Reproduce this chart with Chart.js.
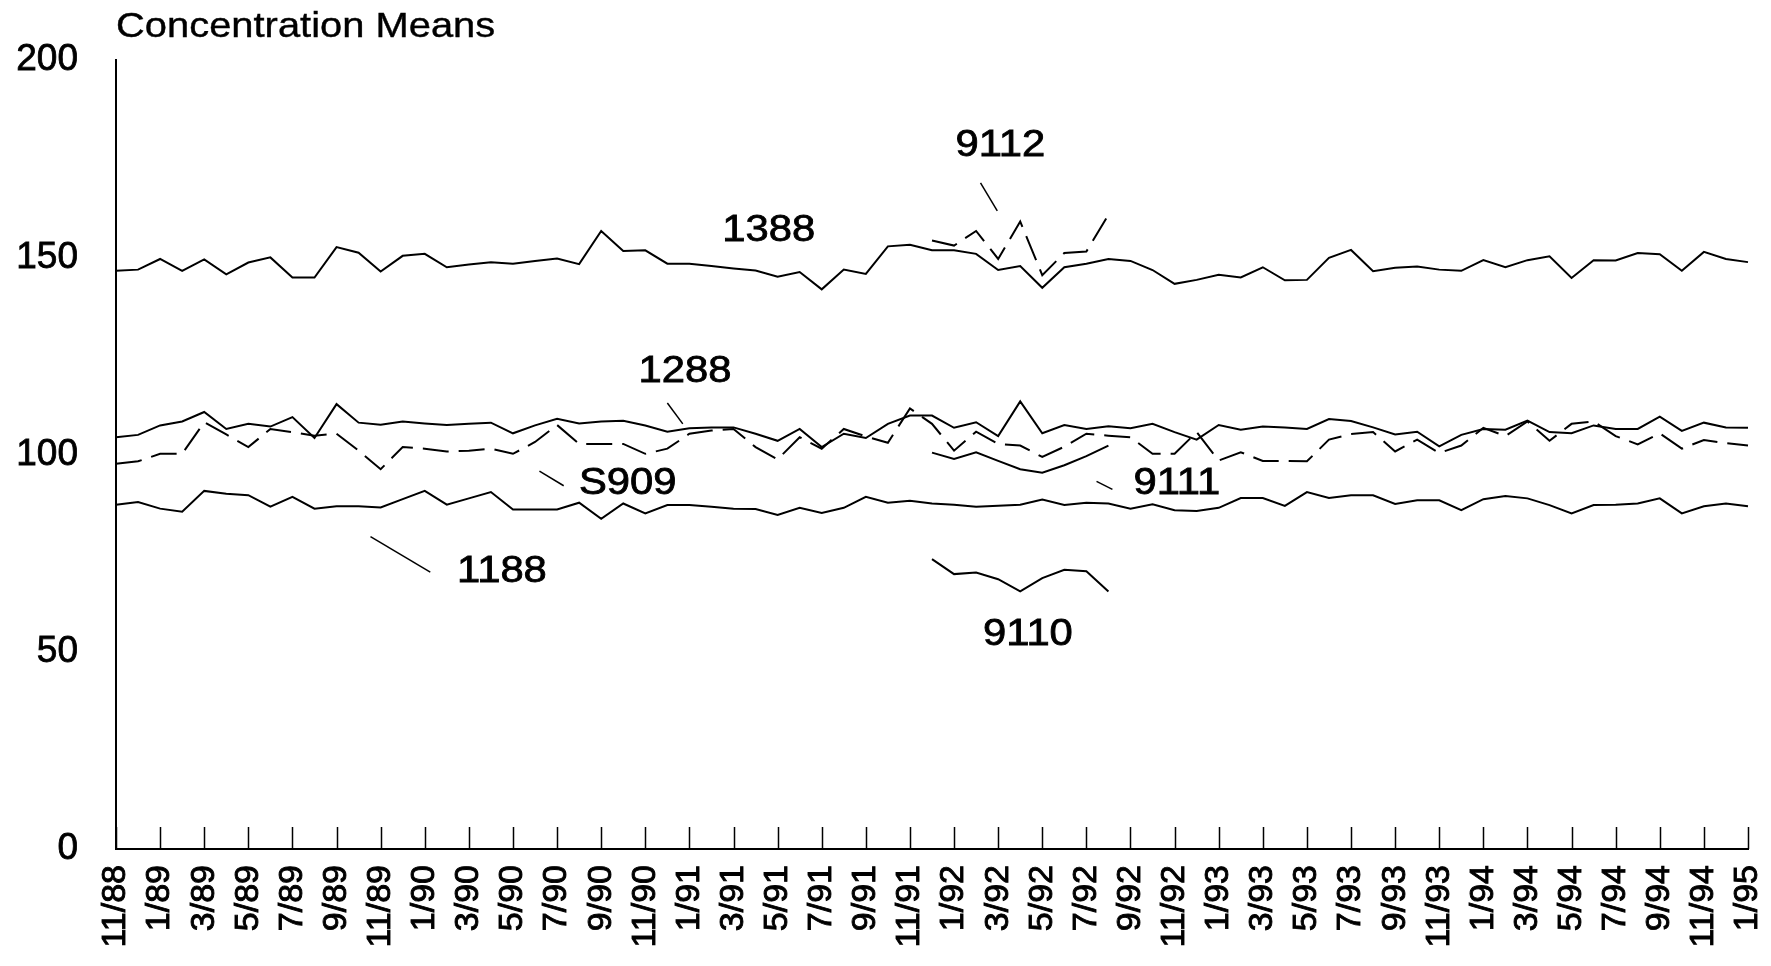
<!DOCTYPE html>
<html>
<head>
<meta charset="utf-8">
<script src="https://cdn.jsdelivr.net/npm/chart.js@4.4.0/dist/chart.umd.min.js"></script>
<style>
  body { margin: 0; background: #fff; }
  #wrap { position: relative; width: 1771px; height: 966px; }
  #title {
    position: absolute; left: 116px; top: 5px;
    font: 35px 'Liberation Sans', Arial, sans-serif; color: #000; white-space: nowrap;
    transform: scaleX(1.14); transform-origin: left top;
    -webkit-text-stroke: 0.4px #000;
  }
</style>
</head>
<body>
<div id="wrap">
  <canvas id="chart" width="1771" height="966"></canvas>
  <div id="title">Concentration Means</div>
</div>
<script>
const months = [
  '11/88', '12/88',
  '1/89', '2/89', '3/89', '4/89', '5/89', '6/89', '7/89', '8/89', '9/89', '10/89', '11/89', '12/89',
  '1/90', '2/90', '3/90', '4/90', '5/90', '6/90', '7/90', '8/90', '9/90', '10/90', '11/90', '12/90',
  '1/91', '2/91', '3/91', '4/91', '5/91', '6/91', '7/91', '8/91', '9/91', '10/91', '11/91', '12/91',
  '1/92', '2/92', '3/92', '4/92', '5/92', '6/92', '7/92', '8/92', '9/92', '10/92', '11/92', '12/92',
  '1/93', '2/93', '3/93', '4/93', '5/93', '6/93', '7/93', '8/93', '9/93', '10/93', '11/93', '12/93',
  '1/94', '2/94', '3/94', '4/94', '5/94', '6/94', '7/94', '8/94', '9/94', '10/94', '11/94', '12/94',
  '1/95'
];

const yTicks = [0, 50, 100, 150, 200];

const s1388 = [
  146.6, 146.9, 149.6, 146.6, 149.5, 145.7, 148.7, 150.0, 144.9, 144.9,
  152.6, 151.2, 146.4, 150.4, 150.9, 147.5, 148.2, 148.8, 148.4, 149.1,
  149.7, 148.3, 156.7, 151.6, 151.8, 148.4, 148.4, 147.8, 147.2, 146.7,
  145.1, 146.3, 141.9, 146.9, 145.8, 152.8, 153.2, 151.8, 151.8, 150.9,
  146.8, 147.8, 142.3, 147.5, 148.4, 149.6, 149.1, 146.8, 143.3, 144.3,
  145.6, 144.9, 147.5, 144.2, 144.3, 149.9, 151.9, 146.5, 147.4, 147.7,
  146.9, 146.6, 149.3, 147.5, 149.3, 150.3, 144.8, 149.3, 149.2, 151.1,
  150.8, 146.6, 151.4, 149.6, 148.8
];

const s1288 = [
  104.4, 105.0, 107.4, 108.4, 110.8, 106.5, 107.8, 107.1, 109.5, 104.2,
  112.8, 108.1, 107.6, 108.4, 107.9, 107.5, 107.8, 108.1, 105.4, 107.4,
  109.1, 107.9, 108.4, 108.6, 107.4, 105.8, 106.7, 106.9, 106.9, 105.3,
  103.5, 106.5, 101.9, 105.3, 104.2, 107.8, 109.9, 109.9, 106.8, 108.2,
  104.7, 113.5, 105.4, 107.5, 106.5, 107.2, 106.7, 107.8, 105.7, 103.8,
  107.5, 106.3, 107.1, 106.9, 106.5, 109.0, 108.5, 106.9, 105.1, 105.8,
  102.1, 105.0, 106.5, 106.3, 108.6, 105.7, 105.4, 107.4, 106.5, 106.5,
  109.6, 106.0, 108.1, 106.9, 106.8
];

const sS909 = [
  97.7, 98.3, 100.2, 100.2, 108.2, 105.1, 101.9, 106.5, 105.7, 104.8,
  105.3, 101.0, 96.3, 101.9, 101.5, 100.8, 101.0, 101.5, 100.2, 103.2,
  107.5, 102.7, 102.7, 102.7, 100.2, 101.5, 105.3, 106.1, 106.5, 101.9,
  98.8, 104.4, 101.5, 106.5, 104.6, 103.0, 111.7, 107.8, 101.0, 105.8,
  102.7, 102.3, 99.4, 102.0, 105.3, 104.8, 104.4, 100.2, 100.2, 105.7,
  98.5, 100.6, 98.4, 98.4, 98.3, 103.8, 105.2, 105.7, 100.8, 103.8,
  100.4, 102.3, 106.8, 104.7, 108.4, 103.5, 107.8, 108.4, 104.7, 102.6,
  105.4, 101.5, 103.7, 102.9, 102.3
];

const s1188 = [
  87.3, 88.0, 86.3, 85.5, 90.8, 90.1, 89.7, 86.8, 89.3, 86.3,
  86.9, 86.9, 86.6, 88.7, 90.8, 87.3, 88.9, 90.5, 86.1, 86.1,
  86.1, 87.8, 83.7, 87.6, 85.1, 87.2, 87.2, 86.8, 86.3, 86.2,
  84.7, 86.5, 85.2, 86.5, 89.3, 87.8, 88.3, 87.6, 87.3, 86.8,
  87.0, 87.3, 88.6, 87.2, 87.8, 87.6, 86.3, 87.4, 85.9, 85.7,
  86.5, 89.0, 89.0, 87.0, 90.5, 89.0, 89.7, 89.7, 87.5, 88.4,
  88.4, 85.9, 88.7, 89.5, 88.9, 87.2, 85.1, 87.2, 87.3, 87.6,
  88.9, 85.1, 86.9, 87.6, 86.9
];

// the 91xx series only run 12/91 .. 8/92
const shortStart = 37;
const s9112 = [154.3, 153.0, 156.7, 149.6, 159.1, 145.5, 151.1, 151.5, 160.8];
const s9111 = [100.5, 98.9, 100.6, 98.4, 96.3, 95.4, 97.3, 99.6, 102.3];
const s9110 = [73.5, 69.7, 70.1, 68.4, 65.3, 68.7, 70.8, 70.4, 65.3];

// series names placed in data units, with optional pointer line
const seriesNotes = [
  { text: '1388', at: [29.6, 156.6] },
  { text: '9112', at: [40.1, 178.3], line: [[39.2, 168.9], [39.96, 161.8]] },
  { text: '1288', at: [25.8, 121.0], line: [[25.0, 113.1], [25.7, 107.8]] },
  { text: 'S909', at: [23.2, 92.5], line: [[19.2, 95.8], [20.3, 92.1]] },
  { text: '1188', at: [17.5, 70.3], line: [[11.54, 79.2], [14.25, 70.2]] },
  { text: '9111', at: [48.1, 92.5], line: [[44.46, 93.2], [45.18, 91.2]] },
  { text: '9110', at: [41.35, 54.3] }
];

const FONT = "'Liberation Sans', Arial, Helvetica, sans-serif";

function shortSeries(vals) {
  return vals.map((v, i) => ({ x: months[shortStart + i], y: v }));
}

function lineSet(label, data, dashed) {
  return {
    label: label,
    data: data,
    borderColor: '#000',
    borderWidth: 2,
    borderDash: dashed ? [26, 10] : [],
    pointRadius: 0,
    tension: 0,
    fill: false
  };
}

const notesPlugin = {
  id: 'notes',
  afterDraw(chart) {
    const ctx = chart.ctx;
    const x = chart.scales.x;
    const y = chart.scales.y;
    const bottom = chart.chartArea.bottom;
    ctx.save();
    // tick marks point up into the plot, one every second month
    ctx.strokeStyle = '#000';
    ctx.lineWidth = 1.5;
    ctx.beginPath();
    months.forEach((m, i) => {
      if (i % 2 !== 0) return;
      const px = Math.round(x.getPixelForValue(i)) + 0.5;
      ctx.moveTo(px, bottom);
      ctx.lineTo(px, bottom - 22);
    });
    ctx.stroke();

    seriesNotes.forEach(n => {
      if (n.line) {
        ctx.lineWidth = 1.5;
        ctx.beginPath();
        ctx.moveTo(x.getPixelForValue(n.line[0][0]), y.getPixelForValue(n.line[0][1]));
        ctx.lineTo(x.getPixelForValue(n.line[1][0]), y.getPixelForValue(n.line[1][1]));
        ctx.stroke();
      }
      // the names in the original are set wide, so stretch them a little
      ctx.save();
      ctx.translate(x.getPixelForValue(n.at[0]), y.getPixelForValue(n.at[1]));
      ctx.scale(1.16, 1);
      ctx.fillStyle = '#000';
      ctx.font = '36px ' + FONT;
      ctx.textAlign = 'center';
      ctx.textBaseline = 'middle';
      ctx.lineWidth = 0.8;
      ctx.fillText(n.text, 0, 0);
      ctx.strokeText(n.text, 0, 0);
      ctx.restore();
    });
    ctx.restore();
  }
};

new Chart(document.getElementById('chart'), {
  type: 'line',
  data: {
    labels: months,
    datasets: [
      lineSet('1388', s1388, false),
      lineSet('1288', s1288, false),
      lineSet('S909', sS909, true),
      lineSet('1188', s1188, false),
      lineSet('9112', shortSeries(s9112), true),
      lineSet('9111', shortSeries(s9111), false),
      lineSet('9110', shortSeries(s9110), false)
    ]
  },
  options: {
    responsive: false,
    animation: false,
    devicePixelRatio: 1,
    layout: { padding: { top: 56, right: 23, left: 0, bottom: 0 } },
    plugins: {
      legend: { display: false },
      tooltip: { enabled: false }
    },
    scales: {
      x: {
        type: 'category',
        offset: false,
        grid: { display: true, drawOnChartArea: false, drawTicks: false },
        border: { display: true, color: '#000', width: 2 },
        ticks: {
          autoSkip: false,
          maxRotation: 90,
          minRotation: 90,
          padding: 16,
          color: '#000',
          textStrokeColor: '#000',
          textStrokeWidth: 0.9,
          font: { family: FONT, size: 34 },
          callback: (v, i) => (i % 2 === 0 ? months[i] : '')
        },
        afterFit: s => {
          s.height = 117;
          s.paddingLeft = 0;
          s.paddingRight = 0;
        }
      },
      y: {
        min: 0,
        max: 200,
        afterBuildTicks: s => { s.ticks = yTicks.map(v => ({ value: v })); },
        grid: { display: false, drawTicks: false },
        border: { display: true, color: '#000', width: 2 },
        ticks: {
          padding: 38,
          color: '#000',
          textStrokeColor: '#000',
          textStrokeWidth: 0.8,
          font: { family: FONT, size: 37 }
        },
        afterFit: s => { s.width = 116; }
      }
    }
  },
  plugins: [notesPlugin]
});
</script>
</body>
</html>
